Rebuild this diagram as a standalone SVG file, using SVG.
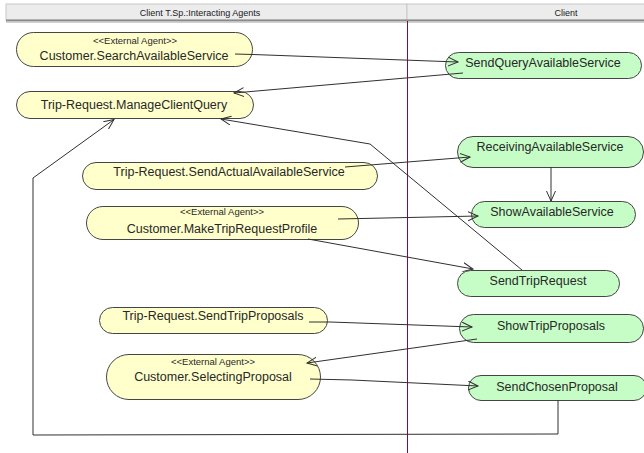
<svg xmlns="http://www.w3.org/2000/svg" width="644" height="453" viewBox="0 0 644 453">
<style>
.bg{fill:#ffffff}
.hdr{fill:#ececec;stroke:#c8c8c8;stroke-width:1}
.htxt{font-family:"Liberation Sans",Arial,sans-serif;font-size:9px;fill:#202020;text-anchor:middle}
.y{fill:#ffffcc;stroke:#454545;stroke-width:1}
.g{fill:#c6fdc6;stroke:#454545;stroke-width:1}
.t{font-family:"Liberation Sans",Arial,sans-serif;font-size:12.5px;fill:#282828;text-anchor:middle}
.st{font-family:"Liberation Sans",Arial,sans-serif;font-size:9.5px;fill:#282828;text-anchor:middle}
.c{fill:none;stroke:#303030;stroke-width:1}
</style>
<defs>
<marker id="arr" markerUnits="userSpaceOnUse" markerWidth="14" markerHeight="12" refX="10" refY="5" orient="auto">
<path d="M0,0.5 L10,5 L0,9.5" fill="none" stroke="#303030" stroke-width="1"/>
</marker>
</defs>
<rect class="bg" x="0" y="0" width="644" height="453"/>
<g id="header">
<rect class="hdr" x="6" y="4" width="401" height="16"/>
<rect class="hdr" x="407" y="4" width="240" height="16"/>
<line x1="6" y1="20.5" x2="644" y2="20.5" stroke="#8a8a8a" stroke-width="2"/>
<line x1="6" y1="22.5" x2="644" y2="22.5" stroke="#d0d0d0" stroke-width="1"/>
<text class="htxt" x="200" y="15.5">Client T.Sp.:Interacting Agents</text>
<text class="htxt" x="566" y="15.5">Client</text>
</g>
<line id="lane-divider" x1="407.5" y1="21" x2="407.5" y2="453" stroke="#7a1040" stroke-width="1"/>
<g id="searchAvailableService">
<rect class="y" x="16.5" y="32.5" width="236" height="34" rx="17"/>
<text class="st" x="135" y="43.5">&lt;&lt;External Agent&gt;&gt;</text>
<text class="t" x="134" y="60">Customer.SearchAvailableService</text>
</g>
<g id="manageClientQuery">
<rect class="y" x="16.5" y="91.5" width="237" height="27" rx="13.5"/>
<text class="t" x="134" y="108.5">Trip-Request.ManageClientQuery</text>
</g>
<g id="sendActualAvailableService">
<rect class="y" x="82.5" y="162.5" width="295" height="27" rx="13.5"/>
<text class="t" x="229" y="176">Trip-Request.SendActualAvailableService</text>
</g>
<g id="makeTripRequestProfile">
<rect class="y" x="86.5" y="206.5" width="272" height="33" rx="16.5"/>
<text class="st" x="222" y="214.5">&lt;&lt;External Agent&gt;&gt;</text>
<text class="t" x="222" y="232.5">Customer.MakeTripRequestProfile</text>
</g>
<g id="sendTripProposals">
<rect class="y" x="99.5" y="307.5" width="228" height="26" rx="13"/>
<text class="t" x="213" y="320">Trip-Request.SendTripProposals</text>
</g>
<g id="selectingProposal">
<rect class="y" x="106.5" y="354.5" width="214" height="45" rx="22.5"/>
<text class="st" x="213" y="364.5">&lt;&lt;External Agent&gt;&gt;</text>
<text class="t" x="213" y="381">Customer.SelectingProposal</text>
</g>
<g id="sendQueryAvailableService">
<rect class="g" x="445.5" y="52.5" width="196" height="26" rx="13"/>
<text class="t" x="543" y="66.5">SendQueryAvailableService</text>
</g>
<g id="receivingAvailableService">
<rect class="g" x="457.5" y="136.5" width="186" height="31" rx="15.5"/>
<text class="t" x="550" y="150.5">ReceivingAvailableService</text>
</g>
<g id="showAvailableService">
<rect class="g" x="471.5" y="201.5" width="164" height="26" rx="13"/>
<text class="t" x="552" y="215.5">ShowAvailableService</text>
</g>
<g id="sendTripRequest">
<rect class="g" x="457.5" y="270.5" width="162" height="26" rx="13"/>
<text class="t" x="538" y="284.5">SendTripRequest</text>
</g>
<g id="showTripProposals">
<rect class="g" x="459.5" y="314.5" width="184" height="28" rx="14"/>
<text class="t" x="551" y="329.5">ShowTripProposals</text>
</g>
<g id="sendChosenProposal">
<rect class="g" x="468.5" y="375.5" width="178" height="25" rx="12.5"/>
<text class="t" x="557" y="390.5">SendChosenProposal</text>
</g>
<g id="connectors">
<polyline class="c" points="235,54 253,54.5 458,62" marker-end="url(#arr)"/>
<line class="c" x1="463" y1="73" x2="234" y2="93" marker-end="url(#arr)"/>
<polyline class="c" points="522,270 370,144 221,119" marker-end="url(#arr)"/>
<polyline class="c" points="558,400 558,434 33,435 33,178 114,119.5" marker-end="url(#arr)"/>
<line class="c" x1="345" y1="167" x2="470" y2="157" marker-end="url(#arr)"/>
<line class="c" x1="551" y1="167" x2="551" y2="201" marker-end="url(#arr)"/>
<line class="c" x1="338" y1="219" x2="478" y2="216" marker-end="url(#arr)"/>
<line class="c" x1="308" y1="239" x2="473" y2="269" marker-end="url(#arr)"/>
<polyline class="c" points="309,322 330,322 472,327" marker-end="url(#arr)"/>
<line class="c" x1="477" y1="339" x2="307" y2="363" marker-end="url(#arr)"/>
<polyline class="c" points="310,379 352,380 478,386" marker-end="url(#arr)"/>
</g>
</svg>
